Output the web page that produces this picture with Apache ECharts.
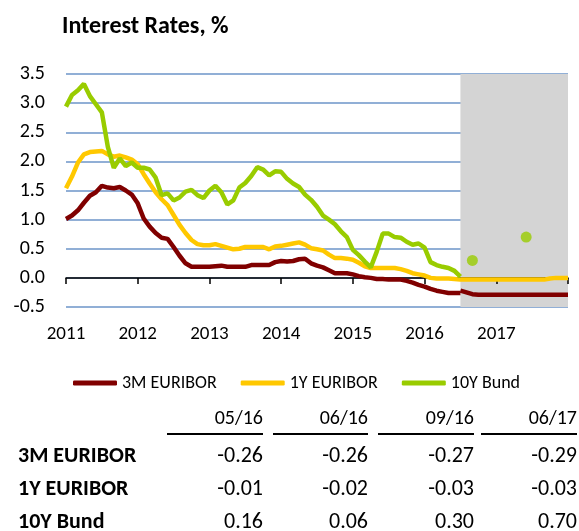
<!DOCTYPE html>
<html>
<head>
<meta charset="utf-8">
<title>Interest Rates</title>
<script src="https://cdn.jsdelivr.net/npm/echarts@6/dist/echarts.min.js"></script>
<style>
  html, body { margin: 0; padding: 0; background: #fff; }
  #chart { width: 579px; height: 531px; }
</style>
</head>
<body>
<div id="chart"></div>
<script>
  // monthly categories Jan 2011 .. Jan 2018
  var months = [];
  for (var y = 2011; y <= 2018; y++) {
    for (var m = 1; m <= 12; m++) {
      if (y === 2018 && m > 1) break;
      months.push(y + '-' + (m < 10 ? '0' + m : m));
    }
  }

  // 3M EURIBOR, history Jan 2011 .. Jul 2016
  var rate3mHist = [
    1.01, 1.07, 1.16, 1.29, 1.41, 1.47, 1.58, 1.55, 1.54, 1.56, 1.50, 1.43,
    1.28, 1.02, 0.88, 0.77, 0.69, 0.67, 0.53, 0.38, 0.25, 0.19, 0.19, 0.19,
    0.19, 0.20, 0.21, 0.19, 0.19, 0.19, 0.19, 0.22, 0.22, 0.22, 0.22, 0.27,
    0.29, 0.28, 0.29, 0.32, 0.33, 0.25, 0.21, 0.18, 0.13, 0.08, 0.08, 0.08,
    0.06, 0.03, 0.01, 0.00, -0.02, -0.02, -0.03, -0.03, -0.03, -0.05, -0.08, -0.12,
    -0.15, -0.19, -0.22, -0.24, -0.26, -0.26, -0.26
  ];
  // 3M EURIBOR, forecast Jul 2016 .. Jan 2018
  var rate3mFcst = [
    -0.22, -0.25, -0.28, -0.29, -0.29, -0.29, -0.29, -0.29, -0.29, -0.29,
    -0.29, -0.29, -0.29, -0.29, -0.29, -0.29, -0.29, -0.29, -0.29
  ];
  // 1Y EURIBOR, Jan 2011 .. Jan 2018 (history + forecast)
  var rate1y = [
    1.54, 1.74, 1.98, 2.12, 2.16, 2.17, 2.18, 2.12, 2.08, 2.10, 2.07, 2.03,
    1.95, 1.78, 1.62, 1.47, 1.35, 1.25, 1.08, 0.91, 0.77, 0.65, 0.58, 0.56,
    0.56, 0.58, 0.55, 0.52, 0.49, 0.50, 0.53, 0.53, 0.53, 0.53, 0.49, 0.54,
    0.55, 0.57, 0.59, 0.61, 0.57, 0.51, 0.49, 0.47, 0.40, 0.34, 0.34, 0.33,
    0.31, 0.26, 0.20, 0.17, 0.17, 0.17, 0.17, 0.17, 0.15, 0.12, 0.08, 0.06,
    0.04, 0.00, -0.01, -0.01, -0.01, -0.02, -0.03, -0.03, -0.03, -0.03, -0.03, -0.03,
    -0.03, -0.03, -0.03, -0.03, -0.03, -0.03, -0.03, -0.03, -0.03, -0.01, 0.00, 0.00,
    0.00
  ];
  // 10Y Bund, history Jan 2011 .. Jul 2016
  var bundHist = [
    2.94, 3.14, 3.22, 3.33, 3.12, 2.98, 2.84, 2.25, 1.89, 2.05, 1.92, 1.98,
    1.89, 1.89, 1.86, 1.72, 1.42, 1.45, 1.33, 1.38, 1.48, 1.51, 1.42, 1.37,
    1.50, 1.58, 1.47, 1.26, 1.33, 1.55, 1.63, 1.75, 1.90, 1.86, 1.76, 1.83,
    1.82, 1.70, 1.62, 1.56, 1.43, 1.34, 1.22, 1.07, 1.00, 0.92, 0.80, 0.70,
    0.48, 0.39, 0.28, 0.18, 0.45, 0.76, 0.76, 0.70, 0.69, 0.62, 0.57, 0.59,
    0.52, 0.27, 0.22, 0.19, 0.17, 0.12, 0.02
  ];
  // 10Y Bund forecast points
  var bundFcstMonths = ['2016-09', '2017-06'];
  var bundFcstValues = [0.30, 0.70];

  var forecastStart = '2016-07';
  var forecastEnd = '2018-01';

  // table below the chart
  var tableDates = ['05/16', '06/16', '09/16', '06/17'];
  var tableRows = ['3M EURIBOR', '1Y EURIBOR', '10Y Bund'];
  var table3m = [-0.26, -0.26, -0.27, -0.29];
  var table1y = [-0.01, -0.02, -0.03, -0.03];
  var tableBund = [0.16, 0.06, 0.30, 0.70];

  var FONT = 'Carlito, Lato, sans-serif';

  var chart = echarts.init(document.getElementById('chart'), null, { renderer: 'canvas' });

  // table as graphic text
  var colRight = [263, 368, 474, 577];
  var colLeft = [167, 273, 378, 481];
  var rowY = [456, 489, 522];
  var tableValues = [table3m, table1y, tableBund];
  var graphics = [];
  tableDates.forEach(function (d, c) {
    graphics.push({
      type: 'text', x: colRight[c], y: 419,
      style: { text: d, fontSize: 20, fontFamily: FONT, fill: '#000', align: 'right', verticalAlign: 'middle' }
    });
    graphics.push({
      type: 'line',
      shape: { x1: colLeft[c], y1: 434, x2: colRight[c], y2: 434 },
      style: { stroke: '#000', lineWidth: 2 }
    });
  });
  tableRows.forEach(function (name, r) {
    graphics.push({
      type: 'text', x: 18, y: rowY[r],
      style: { text: name, fontSize: 22, fontWeight: 'bold', fontFamily: FONT, fill: '#000', align: 'left', verticalAlign: 'middle' }
    });
    tableValues[r].forEach(function (v, c) {
      graphics.push({
        type: 'text', x: colRight[c], y: rowY[r],
        style: { text: v.toFixed(2), fontSize: 22, fontFamily: FONT, fill: '#000', align: 'right', verticalAlign: 'middle' }
      });
    });
  });

  var fcstIdx = months.indexOf(forecastStart);

  var option = {
    animation: false,
    backgroundColor: '#fff',
    title: {
      text: 'Interest Rates, %',
      left: 57,
      top: 10,
      textStyle: { fontSize: 24, fontWeight: 'bold', color: '#000', fontFamily: FONT }
    },
    legend: {
      data: ['3M EURIBOR', '1Y EURIBOR', '10Y Bund'],
      left: 68,
      top: 369,
      icon: 'roundRect',
      itemWidth: 44,
      itemHeight: 5,
      itemGap: 24,
      textStyle: { fontSize: 18, color: '#000', fontFamily: FONT }
    },
    grid: { left: 66, right: 11, top: 74, bottom: 224 },
    xAxis: {
      type: 'category',
      data: months,
      boundaryGap: false,
      z: 1,
      axisLine: { lineStyle: { color: '#000', width: 1.5 } },
      axisTick: {
        show: true,
        length: 6,
        lineStyle: { color: '#000', width: 1.5 },
        interval: function (i, v) { return v.slice(5) === '01'; }
      },
      axisLabel: {
        fontSize: 19,
        color: '#000',
        fontFamily: FONT,
        margin: 18,
        interval: function (i, v) { return v.slice(5) === '01' && v.slice(0, 4) !== '2018'; },
        formatter: function (v) { return v.slice(0, 4); }
      },
      splitLine: { show: false }
    },
    yAxis: {
      type: 'value',
      min: -0.5,
      max: 3.5,
      interval: 0.5,
      axisLine: { show: false },
      axisTick: { show: false },
      axisLabel: {
        fontSize: 20,
        color: '#000',
        fontFamily: FONT,
        margin: 21,
        formatter: function (v) { return v.toFixed(1); }
      },
      splitLine: { lineStyle: { color: '#6d94c9', width: 1.5 } }
    },
    series: [
      {
        // forecast shading, under the grid lines
        type: 'line',
        data: [],
        z: -1,
        silent: true,
        markArea: {
          silent: true,
          itemStyle: { color: '#d4d4d4' },
          data: [[{ xAxis: forecastStart }, { xAxis: forecastEnd }]]
        }
      },
      {
        name: '3M EURIBOR',
        type: 'line',
        data: rate3mHist,
        symbol: 'none',
        color: '#800000',
        lineStyle: { width: 4.5, color: '#800000' }
      },
      {
        name: '3M EURIBOR',
        type: 'line',
        data: rate3mFcst.map(function (v, i) { return [months[fcstIdx + i], v]; }),
        symbol: 'none',
        color: '#800000',
        lineStyle: { width: 4.5, color: '#800000' }
      },
      {
        name: '1Y EURIBOR',
        type: 'line',
        data: rate1y,
        symbol: 'none',
        color: '#ffc800',
        lineStyle: { width: 4.5, color: '#ffc800' }
      },
      {
        name: '10Y Bund',
        type: 'line',
        data: bundHist,
        symbol: 'none',
        color: '#99cc00',
        lineStyle: { width: 4.5, color: '#99cc00' }
      },
      {
        name: '10Y Bund',
        type: 'scatter',
        data: bundFcstMonths.map(function (mth, i) { return [mth, bundFcstValues[i]]; }),
        symbolSize: 11,
        itemStyle: { color: '#99cc00' }
      }
    ],
    graphic: graphics
  };

  chart.setOption(option);
</script>
</body>
</html>
